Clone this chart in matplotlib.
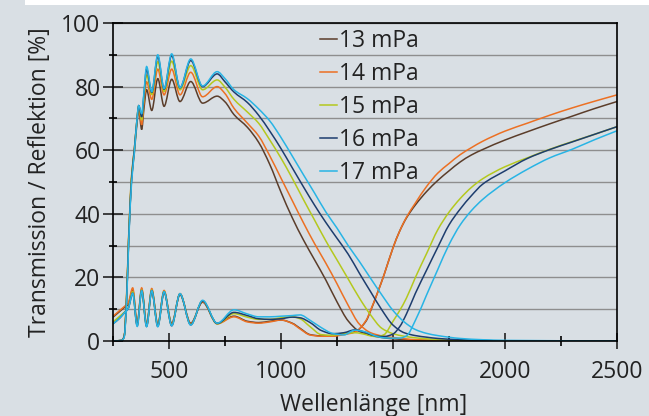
import matplotlib
matplotlib.use("Agg")
import numpy as np
import matplotlib.pyplot as plt
from matplotlib.ticker import MultipleLocator
from matplotlib.patches import Rectangle, PathPatch
from matplotlib.path import Path
from matplotlib.lines import Line2D

plt.rcParams['font.family'] = ['Open Sans', 'DejaVu Sans']

# wavelength grids [nm]
wl_T = [250, 290, 300, 310, 320, 333, 345, 355, 365, 378, 388, 400, 423, 450, 478,
        512, 549, 597, 650, 715, 750, 790, 850, 900, 950, 1000, 1050, 1100, 1150, 1200,
        1250, 1300, 1350, 1400, 1450, 1500, 1550, 1600, 1650, 1700, 1800, 1900, 2000, 2500]
wl_R = [250, 280, 300, 318, 338, 358, 378, 400, 423, 450, 478, 512, 549, 597, 650,
        715, 790, 850, 900, 950, 1000, 1050, 1085, 1130, 1180, 1230, 1280, 1330, 1380, 1400,
        1430, 1460, 1500, 1530, 1560, 1600, 1650, 1700, 1750, 1800, 1850, 1900, 2000, 2100,
        2200, 2300, 2400, 2500]

labels = ['13 mPa', '14 mPa', '15 mPa', '16 mPa', '17 mPa']
colors = ['#5b3d2a', '#ec7023', '#b4c81e', '#1d3d6e', '#28b4e4']

# transmission [%]
T_13 = [0, 0.2, 1.5, 12, 32, 51, 59, 67, 72.5, 66.5, 73, 79, 72.5, 82.5, 73.8,
        82.3, 75.3, 81.6, 74.8, 77.0, 75.2, 71.2, 67.2, 62.5, 55.5, 46.8, 38.8, 31.8, 25.5, 19.2,
        12.3, 6.3, 3.0, 1.8, 1.1, 0.7, 0.5, 0.3, 0.2, 0.1, 0, 0, 0, 0]
T_14 = [0, 0.2, 1.5, 13, 33, 52, 60, 68, 73.5, 68, 75, 81.5, 76, 85.5, 77.4,
        85.5, 77.4, 84.5, 76.8, 80.0, 77.8, 73.2, 68.5, 64.5, 58.2, 51.2, 44.2, 37.2, 30.6, 24.5,
        18, 11.2, 5.3, 2.6, 1.6, 1.1, 0.7, 0.4, 0.3, 0.2, 0, 0, 0, 0]
T_15 = [0, 0.2, 1.5, 13, 33, 52, 60, 68, 74, 69.5, 76.5, 83.6, 77.5, 87.8, 78.5,
        88.0, 79.0, 86.6, 79.0, 82.1, 79.8, 76, 72, 68.5, 63.2, 57.5, 51.2, 44.5, 38, 31.5,
        25.5, 19.5, 13.5, 8.2, 4.0, 2.3, 1.5, 1.0, 0.7, 0.4, 0.2, 0, 0, 0]
T_16 = [0, 0.2, 1.5, 12, 32, 51, 60, 68, 74, 70.5, 77.5, 85.5, 78.2, 89.5, 79.2,
        89.8, 79.6, 88.2, 80.0, 84.0, 81.5, 78.3, 75, 71, 66, 60.5, 54.5, 48.5, 42.7, 37.3,
        32.3, 27.3, 21.3, 15.5, 9.8, 5, 2.6, 1.7, 1.2, 0.8, 0.4, 0.2, 0, 0]
T_17 = [0, 0.2, 1.2, 11, 31, 50, 59, 68, 74, 71.5, 78, 86.3, 78.4, 90.0, 79.4,
        90.3, 79.7, 88.7, 80.2, 84.7, 82.5, 79, 76.2, 73, 69.2, 64, 58.2, 52.3, 46.5, 40.6,
        35.5, 30, 25, 19.7, 14.5, 9.6, 6, 3.6, 2.4, 1.7, 0.8, 0.4, 0.2, 0]

# reflection [%]
R_13 = [7.5, 9.3, 10.5, 11.5, 16.0, 5.5, 16.2, 5.2, 16.0, 5.2, 15.5, 5.5, 14.6, 5.6, 12.2,
        5.6, 7.8, 6.2, 5.8, 6.2, 6.6, 5.6, 4.0, 2.0, 1.6, 1.6, 2.2, 2.9, 6.3, 9.5,
        15.0, 20.8, 29.3, 34.6, 38.7, 42.8, 47.0, 50.5, 53.5, 56.3, 58.5, 60.2, 63.2, 65.8,
        68.3, 70.7, 73.1, 75.3]
R_14 = [7.8, 9.6, 10.8, 12.0, 16.7, 5.3, 16.7, 5.0, 16.5, 5.0, 15.9, 5.2, 14.9, 5.4, 12.4,
        5.4, 7.6, 6.0, 5.6, 6.0, 6.6, 5.5, 3.8, 1.9, 1.5, 1.5, 2.0, 2.8, 6.5, 9.7,
        15.0, 20.8, 29.3, 34.6, 38.9, 43.4, 48.6, 52.8, 55.8, 58.6, 60.8, 62.8, 66.0, 68.5,
        71.0, 73.3, 75.4, 77.4]
R_15 = [6.0, 7.8, 9.0, 10.5, 15.5, 5.0, 16.0, 4.8, 16.0, 4.8, 15.6, 5.0, 14.8, 5.2, 12.6,
        5.4, 8.6, 7.5, 6.8, 6.8, 7.3, 7.6, 7.0, 4.5, 2.0, 1.8, 2.4, 2.6, 2.0, 1.6,
        1.4, 2.0, 6.2, 9.6, 13.5, 20.0, 27.5, 35.0, 40.5, 44.8, 48.3, 51.0, 54.8, 57.6,
        60.3, 62.7, 65.0, 67.4]
R_16 = [5.4, 7.2, 8.8, 10.2, 15.0, 4.8, 15.8, 4.6, 15.8, 4.6, 15.4, 4.8, 14.8, 5.1, 12.6,
        5.5, 9.0, 8.0, 7.0, 6.8, 7.0, 7.5, 7.3, 5.8, 3.3, 2.3, 2.6, 3.5, 2.6, 2.0,
        1.5, 1.4, 2.2, 4.5, 8.5, 15.0, 22.3, 29.5, 36.5, 41.5, 45.7, 49.3, 53.5, 57.4,
        60.2, 62.6, 65.0, 67.4]
R_17 = [5.4, 7.2, 8.8, 10.2, 15.0, 4.6, 15.8, 4.5, 15.8, 4.5, 15.5, 4.8, 14.9, 5.0, 12.8,
        5.6, 9.8, 8.5, 7.6, 7.6, 7.8, 8.0, 8.2, 6.5, 4.2, 2.4, 1.9, 3.4, 2.8, 2.2,
        1.4, 1.0, 0.9, 0.9, 1.6, 6.5, 14.5, 22.5, 30.3, 36.5, 41.0, 44.5, 49.8, 54.0,
        57.6, 60.3, 63.3, 66.1]

T_all = [T_13, T_14, T_15, T_16, T_17]
R_all = [R_13, R_14, R_15, R_16, R_17]


def smooth_path(x, y):
    # bezier segments through the measured points (monotone tangents, no overshoot)
    x = np.asarray(x, float)
    y = np.asarray(y, float)
    h = np.diff(x)
    d = np.diff(y) / h
    m = np.zeros_like(y)
    for i in range(1, len(y) - 1):
        if d[i - 1] * d[i] > 0:
            w1 = 2 * h[i] + h[i - 1]
            w2 = h[i] + 2 * h[i - 1]
            m[i] = (w1 + w2) / (w1 / d[i - 1] + w2 / d[i])
    m[0], m[-1] = d[0], d[-1]
    verts = [(x[0], y[0])]
    codes = [Path.MOVETO]
    for i in range(len(h)):
        verts += [(x[i] + h[i] / 3, y[i] + m[i] * h[i] / 3),
                  (x[i + 1] - h[i] / 3, y[i + 1] - m[i + 1] * h[i] / 3),
                  (x[i + 1], y[i + 1])]
        codes += [Path.CURVE4] * 3
    return Path(verts, codes)


bg = '#d9dfe4'
txt = '#222222'
fs = 16.5

fig = plt.figure(figsize=(6.49, 4.16), dpi=100, facecolor=bg)
fig.patches.append(Rectangle((25 / 649, 1 - 5 / 416), 1, 5 / 416, transform=fig.transFigure,
                             facecolor='white', edgecolor='none'))
ax = fig.add_axes([113 / 649, 1 - 341 / 416, 504 / 649, 318 / 416])
ax.set_facecolor(bg)

handles = []
for T, R, c, lab in zip(T_all, R_all, colors, labels):
    ax.add_patch(PathPatch(smooth_path(wl_T, T), facecolor='none', edgecolor=c, lw=1.1))
    ax.add_patch(PathPatch(smooth_path(wl_R, R), facecolor='none', edgecolor=c, lw=1.1))
    handles.append(Line2D([], [], color=c, lw=1.1, label=lab))

ax.set_xlim(250, 2500)
ax.set_ylim(0, 100)
ax.xaxis.set_major_locator(MultipleLocator(500))
ax.xaxis.set_minor_locator(MultipleLocator(250))
ax.yaxis.set_major_locator(MultipleLocator(20))
ax.yaxis.set_minor_locator(MultipleLocator(10))
ax.grid(True, which='both', axis='y', color='#8e8e8e', lw=1.0)
ax.set_axisbelow(True)
for s in ax.spines.values():
    s.set_color('black')
    s.set_linewidth(1.2)

ax.tick_params(axis='y', which='major', direction='inout', length=14, width=1.2,
               labelsize=fs, pad=2, colors=txt)
ax.tick_params(axis='y', which='minor', direction='inout', length=6, width=1.2)
ax.tick_params(axis='x', which='major', direction='inout', length=11, width=1.2,
               labelsize=fs, pad=8.5, colors=txt)
ax.tick_params(axis='x', which='minor', direction='inout', length=7, width=1.2)

ax.set_xlabel('Wellenlänge [nm]', fontsize=fs, color=txt, va='center')
ax.xaxis.set_label_coords(0.518, -0.2)
ax.set_ylabel('Transmission / Reflektion [%]', fontsize=fs, color=txt, va='center')
ax.yaxis.set_label_coords(-0.145, 0.5)

leg = ax.legend(handles=handles, loc='upper left', bbox_to_anchor=(0.3835, 1.025),
                frameon=False, fontsize=fs, handlelength=0.75, handletextpad=0.08,
                labelspacing=0.39, borderaxespad=0.2)
for t in leg.get_texts():
    t.set_color(txt)

fig.savefig('out.png', dpi=100, facecolor=bg)
